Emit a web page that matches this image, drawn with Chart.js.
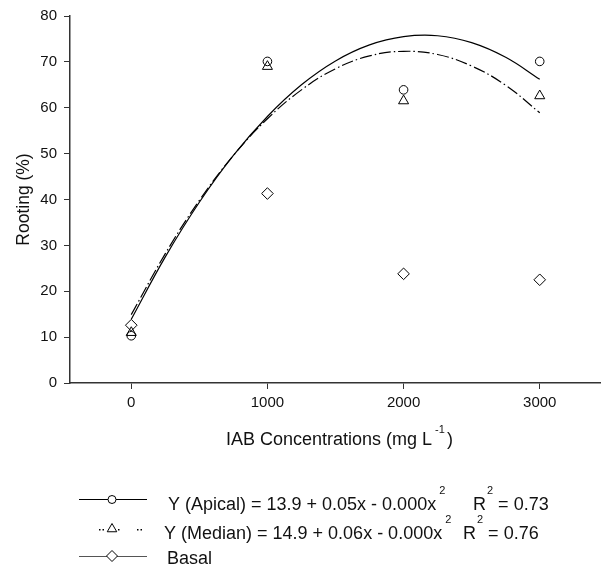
<!DOCTYPE html>
<html>
<head>
<meta charset="utf-8">
<script src="https://cdn.jsdelivr.net/npm/chart.js@4.4.1/dist/chart.umd.min.js"></script>
<style>
  body { margin: 0; background: #fff; }
  canvas { display: block; }
</style>
</head>
<body>
<canvas id="rootingChart" width="601" height="570"></canvas>
<script>
// observed means
const concentrations = [0, 1000, 2000, 3000];
const apicalRooting = [10.3, 70.1, 63.9, 70.1];
const medianRooting = [11.0, 69.0, 61.5, 62.6];
const basalRooting = [12.6, 41.3, 23.8, 22.5];

// fitted curves
const fitX = [0, 250, 500, 750, 1000, 1250, 1500, 1750, 2000, 2250, 2500, 2750, 3000];
const apicalFit = [13.9, 27.5, 39.4, 49.6, 58.1, 65.0, 70.2, 73.7, 75.5, 75.7, 74.2, 71.0, 66.2];
const medianFit = [14.9, 28.2, 39.8, 49.6, 57.6, 63.9, 68.5, 71.3, 72.3, 71.6, 69.1, 64.9, 58.9];

const xTicks = [0, 1000, 2000, 3000];

const FONT = '"Liberation Sans", Arial, sans-serif';
Chart.defaults.font.family = FONT;
Chart.defaults.color = '#111';

const toPoints = (xs, ys) => xs.map((x, i) => ({ x, y: ys[i] }));

const markerBase = {
  showLine: false,
  borderColor: '#000',
  backgroundColor: 'rgba(0,0,0,0)',
  borderWidth: 1,
};

// x title with superscript + legend block under the chart
const bottomText = {
  id: 'bottomText',
  afterDraw(chart) {
    const ctx = chart.ctx;
    ctx.save();
    ctx.fillStyle = '#111';
    ctx.textBaseline = 'alphabetic';

    // x axis title
    let x = 226;
    ctx.font = '18px ' + FONT;
    ctx.fillText('IAB Concentrations (mg L', x, 445);
    x += ctx.measureText('IAB Concentrations (mg L').width + 3;
    ctx.font = '11px ' + FONT;
    ctx.fillText('-1', x, 433);
    x += ctx.measureText('-1').width + 2;
    ctx.font = '18px ' + FONT;
    ctx.fillText(')', x, 445);

    const sup = (txt, x, y) => {
      ctx.font = '11px ' + FONT;
      ctx.fillText(txt, x, y);
      return x + ctx.measureText(txt).width;
    };
    const main = (txt, x, y) => {
      ctx.font = '18px ' + FONT;
      ctx.fillText(txt, x, y);
      return x + ctx.measureText(txt).width;
    };

    const rows = [
      { text: 'Y (Apical) = 13.9 + 0.05x - 0.000x', r2: ' = 0.73', x: 168, rx: 473, y: 510 },
      { text: 'Y (Median) = 14.9 + 0.06x - 0.000x', r2: ' = 0.76', x: 164, rx: 463, y: 539 },
    ];
    rows.forEach(r => {
      let e = main(r.text, r.x, r.y);
      sup('2', e + 3, r.y - 16);
      e = main('R', r.rx, r.y);
      e = sup('2', e + 1, r.y - 16);
      main(r.r2, e, r.y);
    });
    main('Basal', 167, 564);

    // legend samples
    const draw = Chart.helpers.drawPoint;
    ctx.lineWidth = 1;
    ctx.strokeStyle = '#000';
    ctx.beginPath();
    ctx.moveTo(79, 499.5);
    ctx.lineTo(147, 499.5);
    ctx.stroke();
    ctx.fillStyle = '#fff';
    draw(ctx, { pointStyle: 'circle', radius: 4, borderWidth: 1 }, 112, 499.5);

    ctx.fillStyle = '#000';
    [99, 102.5, 118, 137, 140.5].forEach(dx => ctx.fillRect(dx, 529, 1.5, 1.5));
    ctx.fillStyle = '#fff';
    draw(ctx, { pointStyle: 'triangle', radius: 5.5, borderWidth: 1 }, 112, 529);

    ctx.strokeStyle = '#555';
    ctx.beginPath();
    ctx.moveTo(79, 556.5);
    ctx.lineTo(147, 556.5);
    ctx.stroke();
    ctx.strokeStyle = '#000';
    draw(ctx, { pointStyle: 'rectRot', radius: 5.5, borderWidth: 1 }, 112, 556);

    ctx.restore();
  },
};

new Chart(document.getElementById('rootingChart'), {
  type: 'scatter',
  data: {
    datasets: [
      {
        label: 'Apical fit',
        data: toPoints(fitX, apicalFit),
        showLine: true,
        borderColor: '#000',
        borderWidth: 1.2,
        pointRadius: 0,
        tension: 0.4,
      },
      {
        label: 'Median fit',
        data: toPoints(fitX, medianFit),
        showLine: true,
        borderColor: '#000',
        borderWidth: 1.2,
        borderDash: [12, 3, 1.5, 3],
        pointRadius: 0,
        tension: 0.4,
      },
      { ...markerBase, label: 'Apical', data: toPoints(concentrations, apicalRooting), pointStyle: 'circle', pointRadius: 4.3 },
      { ...markerBase, label: 'Median', data: toPoints(concentrations, medianRooting), pointStyle: 'triangle', pointRadius: 5.8 },
      { ...markerBase, label: 'Basal', data: toPoints(concentrations, basalRooting), pointStyle: 'rectRot', pointRadius: 5.8 },
    ],
  },
  options: {
    responsive: false,
    animation: false,
    devicePixelRatio: 1,
    layout: { autoPadding: false, padding: { top: 16, left: 0, right: 0, bottom: 0 } },
    plugins: { legend: { display: false }, tooltip: { enabled: false } },
    scales: {
      x: {
        type: 'linear',
        min: -450,
        max: 3450,
        afterBuildTicks: s => { s.ticks = xTicks.map(v => ({ value: v })); },
        afterFit: s => { s.height = 187; },
        ticks: { font: { size: 15 }, padding: 5, color: '#111', callback: v => String(v) },
        grid: { display: true, drawOnChartArea: false, drawTicks: true, tickLength: 6, color: '#333' },
        border: { display: true, color: '#333', width: 1.5 },
        title: { display: false },
      },
      y: {
        min: 0,
        max: 80,
        ticks: { stepSize: 10, font: { size: 15 }, padding: 7, color: '#111' },
        afterFit: s => { s.width = 70; },
        grid: { display: true, drawOnChartArea: false, drawTicks: true, tickLength: 6, color: '#333' },
        border: { display: true, color: '#333', width: 1.5 },
        title: {
          display: true,
          text: 'Rooting (%)',
          font: { size: 17.5 },
          color: '#111',
          padding: { top: 14, bottom: 0 },
        },
      },
    },
  },
  plugins: [bottomText],
});
</script>
</body>
</html>
